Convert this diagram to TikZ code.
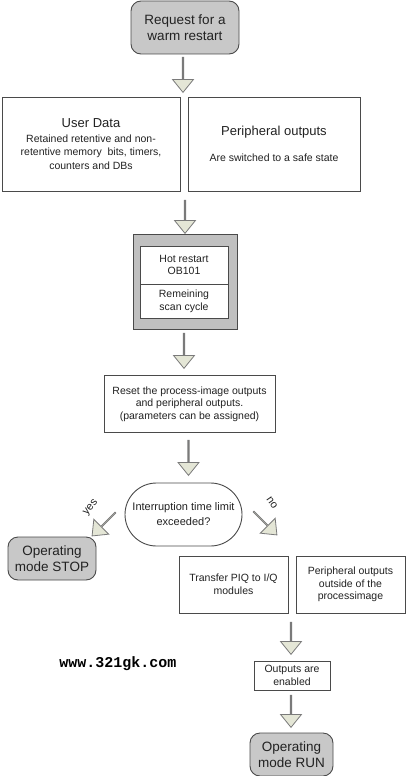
\documentclass[tikz,border=0pt]{standalone}
\usepackage{fontspec}
\setmainfont{Liberation Sans}
\newfontfamily\wmfont{Liberation Mono}
\usetikzlibrary{shapes.arrows,shapes.misc}
\definecolor{boxline}{HTML}{4A4A4A}
\definecolor{grayfill}{HTML}{C8C8C8}
\definecolor{outerfill}{HTML}{C0C0C0}
\definecolor{arrfill}{HTML}{E4E6D6}
\definecolor{arrline}{HTML}{7A7A7A}
\definecolor{txt}{HTML}{222222}
\newcommand{\smtxt}{\fontsize{10.5}{13.5}\selectfont}
\newcommand{\mdtxt}{\fontsize{13}{15}\selectfont}
\tikzset{
  every node/.style={text=txt, inner sep=0pt, outer sep=0pt, align=center},
  plainbox/.style={draw=boxline, line width=0.9pt, fill=white, rectangle},
  graybox/.style={draw=boxline, line width=0.9pt, fill=grayfill, rectangle, rounded corners=10pt},
  blockarrow/.style={single arrow, draw=arrline, line width=0.8pt, fill=arrfill,
     minimum width=21pt, single arrow head extend=6.5pt, single arrow tip angle=78,
     inner sep=0pt, anchor=center},
  bigtxt/.style={font=\fontsize{13.5}{16}\selectfont},
  smalltxt/.style={font=\fontsize{10.5}{12.6}\selectfont},
}
\begin{document}
\begin{tikzpicture}[x=1pt,y=-1pt]
\useasboundingbox (0,0) rectangle (406,776);
% nodes
\node[graybox, bigtxt, minimum width=108pt, minimum height=53pt] (req) at (185,27.5) {Request for a\\warm restart};
\node[plainbox, font=\smtxt, minimum width=178pt, minimum height=94pt] (user) at (91,144)
  {\mdtxt User Data\\[1pt]Retained retentive and non-\\retentive memory\ \ bits, timers,\\counters and DBs};
\node[plainbox, font=\smtxt, minimum width=172pt, minimum height=94pt] (periph) at (274,144)
  {\mdtxt Peripheral outputs\\[12pt]Are switched to a safe state};
\node[draw=boxline, line width=0.9pt, fill=outerfill, minimum width=104pt, minimum height=95pt] (outer) at (185,281.5) {};
\node[plainbox, smalltxt, minimum width=88pt, minimum height=38pt] (hot) at (184,265) {Hot restart\\OB101};
\node[plainbox, smalltxt, minimum width=88pt, minimum height=34pt] (rem) at (184,301) {Remeining\\scan cycle};
\node[plainbox, smalltxt, minimum width=171pt, minimum height=57pt] (reset) at (189.5,404)
  {Reset the process-image outputs\\and peripheral outputs.\\(parameters can be assigned)};
\node[draw=boxline, line width=0.9pt, fill=white, rounded rectangle, minimum width=117pt, minimum height=63pt,
  font=\fontsize{11}{15}\selectfont] (intr) at (183.5,514.5) {Interruption time limit\\exceeded?};
\node[graybox, bigtxt, minimum width=88pt, minimum height=43pt] (stop) at (52,558.5) {Operating\\mode STOP};
\node[plainbox, smalltxt, minimum width=109pt, minimum height=57pt] (piq) at (233.5,584.5) {Transfer PIQ to I/Q\\modules};
\node[plainbox, smalltxt, minimum width=109pt, minimum height=57pt] (outside) at (350.5,584.5) {Peripheral outputs\\outside of the\\processimage};
\node[plainbox, smalltxt, minimum width=76pt, minimum height=29pt] (enabled) at (292,675.5) {Outputs are\\enabled};
\node[graybox, bigtxt, minimum width=83pt, minimum height=43pt] (run) at (291.5,754.5) {Operating\\mode RUN};
% block arrows
\node[blockarrow, minimum height=35pt, rotate=-90] (a1) at (183,74.5) {};
\node[blockarrow, minimum height=33pt, rotate=-90] (a2) at (185,216.5) {};
\node[blockarrow, minimum height=35pt, rotate=-90] (a3) at (184,350.5) {};
\node[blockarrow, minimum height=35pt, rotate=-90] (a4) at (188.5,457.5) {};
\node[blockarrow, minimum height=33pt, rotate=-135] (a5) at (104,524) {};
\node[blockarrow, minimum height=33pt, rotate=-45] (a6) at (265,523) {};
\node[blockarrow, minimum height=32pt, rotate=-90] (a7) at (291,638) {};
\node[blockarrow, minimum height=32pt, rotate=-90] (a8) at (291,711) {};
% labels
\node[font=\fontsize{11}{13}\selectfont, rotate=50] (yes) at (91,508) {yes};
\node[font=\fontsize{11}{13}\selectfont, rotate=-55] (no) at (272,503) {no};
\node[font=\wmfont\bfseries\fontsize{15}{17}\selectfont, text=black] (wm) at (118,664) {www.321gk.com};
\end{tikzpicture}
\end{document}
